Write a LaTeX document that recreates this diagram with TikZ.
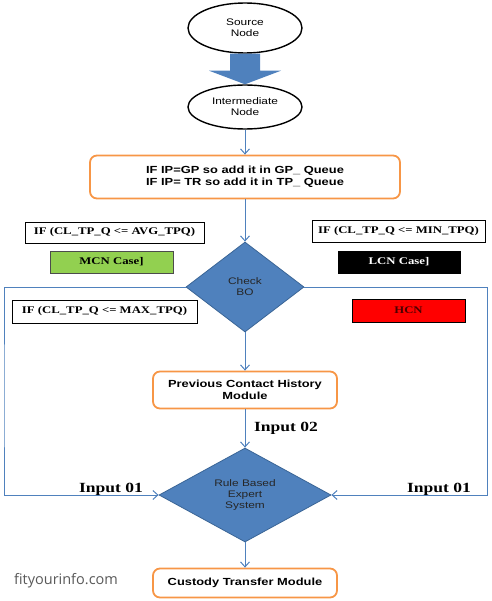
\documentclass[tikz,border=0pt]{standalone}
\usepackage{fontspec}
\setmainfont{Liberation Serif}
\setsansfont{Liberation Sans}
\newfontfamily\wsans{Liberation Sans}[FakeStretch=1.25]
\newfontfamily\wserif{Liberation Serif}[FakeStretch=1.25]
\newfontfamily\sitefont{Open Sans}
\usetikzlibrary{arrows.meta,shapes.geometric}

\definecolor{lineblue}{HTML}{4F81BD}
\definecolor{diafill}{HTML}{4F81BD}
\definecolor{diaedge}{HTML}{3A6596}
\definecolor{boxorange}{HTML}{F79646}
\definecolor{mcngreen}{HTML}{92D050}
\definecolor{hcnred}{HTML}{FF0000}

\begin{document}
\begin{tikzpicture}[
		x=1pt, y=-1pt,
		arrow/.style={draw=lineblue, line width=1pt, -{Straight Barb[length=5pt,width=9pt]}},
		oval/.style={ellipse, draw, line width=1.4pt, fill=white, minimum width=114, align=center, font=\wsans\fontsize{9.5}{11}\selectfont},
		module/.style={draw=boxorange, line width=1.8pt, rounded corners=7pt, fill=white, align=center, font=\wsans\bfseries\fontsize{10.3}{12}\selectfont},
		decision/.style={diamond, draw=diaedge, fill=diafill, line width=0.8pt, inner sep=0pt, align=center, text=black!85, font=\wsans\fontsize{9.5}{11}\selectfont},
		condbox/.style={draw, line width=0.6pt, inner sep=0pt, fill=white, font=\wserif\bfseries\fontsize{10.2}{12}\selectfont},
		inlabel/.style={font=\wserif\bfseries\fontsize{14}{16}\selectfont},
	]
		\useasboundingbox (0,0) rectangle (491,601);

		% main column
		\node[oval, minimum height=50] (src) at (245,28) {Source\\Node};
		\node[oval, minimum height=44] (mid) at (245,107) {Intermediate\\Node};
		\node[module, minimum width=310, minimum height=43] (queue) at (245,177) {IF IP=GP so add it in GP\_ Queue\\IF IP= TR so add it in TP\_ Queue};
		\node[decision, minimum width=118, minimum height=90] (chk) at (245,287) {Check\\BO};
		\node[module, minimum width=184, minimum height=37] (hist) at (245,390) {Previous Contact History\\Module};
		\node[decision, minimum width=172, minimum height=94] (rbes) at (245,495) {Rule Based\\Expert\\System};
		\node[module, minimum width=184, minimum height=29] (cust) at (245,583) {Custody Transfer Module};

		% conditions
		\node[condbox, minimum width=179, minimum height=21] (avg) at (114.5,232.5) {IF (CL\_TP\_Q <= AVG\_TPQ)};
		\node[condbox, fill=mcngreen, draw=black!70, minimum width=123, minimum height=22] (mcn) at (111.5,262) {MCN Case]};
		\node[condbox, minimum width=173, minimum height=22] (min) at (398.5,231) {IF (CL\_TP\_Q <= MIN\_TPQ)};
		\node[condbox, fill=black, text=white, minimum width=122, minimum height=22] (lcn) at (399,262) {LCN Case]};
		\node[condbox, minimum width=185, minimum height=23] (max) at (104.5,311.5) {IF (CL\_TP\_Q <= MAX\_TPQ)};
		\node[condbox, fill=hcnred, text=black!70!red, minimum width=113, minimum height=23] (hcn) at (408.5,310.5) {HCN};

		% big arrow
		\fill[diafill] ([xshift=-15pt]src.south) -- ([xshift=-15pt,yshift=-17pt]src.south) -- ([xshift=-36pt,yshift=-17pt]src.south)
			-- (mid.north) -- ([xshift=36pt,yshift=-17pt]src.south) -- ([xshift=15pt,yshift=-17pt]src.south) -- ([xshift=15pt]src.south) -- cycle;

		\draw[arrow] (mid) -- (queue);
		\draw[arrow] (queue) -- (chk);
		\draw[arrow] (chk) -- (hist);
		\draw[arrow] (hist) -- (rbes);
		\draw[arrow] (rbes) -- (cust);

		% loop back
		\coordinate (lft) at (4,400);
		\coordinate (rgt) at (487,400);
		\draw[arrow] (chk.west) -| (lft) |- (rbes.west);
		\draw[arrow] (chk.east) -| (rgt) |- (rbes.east);

		\node[inlabel] (in1l) at (111,489) {Input 01};
		\node[inlabel] (in1r) at (439,489) {Input 01};
		\node[inlabel] (in2) at (286,428) {Input 02};
		\node[font=\sitefont\fontsize{14.5}{16}\selectfont, text=black!65] (site) at (66,581) {fityourinfo.com};
	\end{tikzpicture}
\end{document}
